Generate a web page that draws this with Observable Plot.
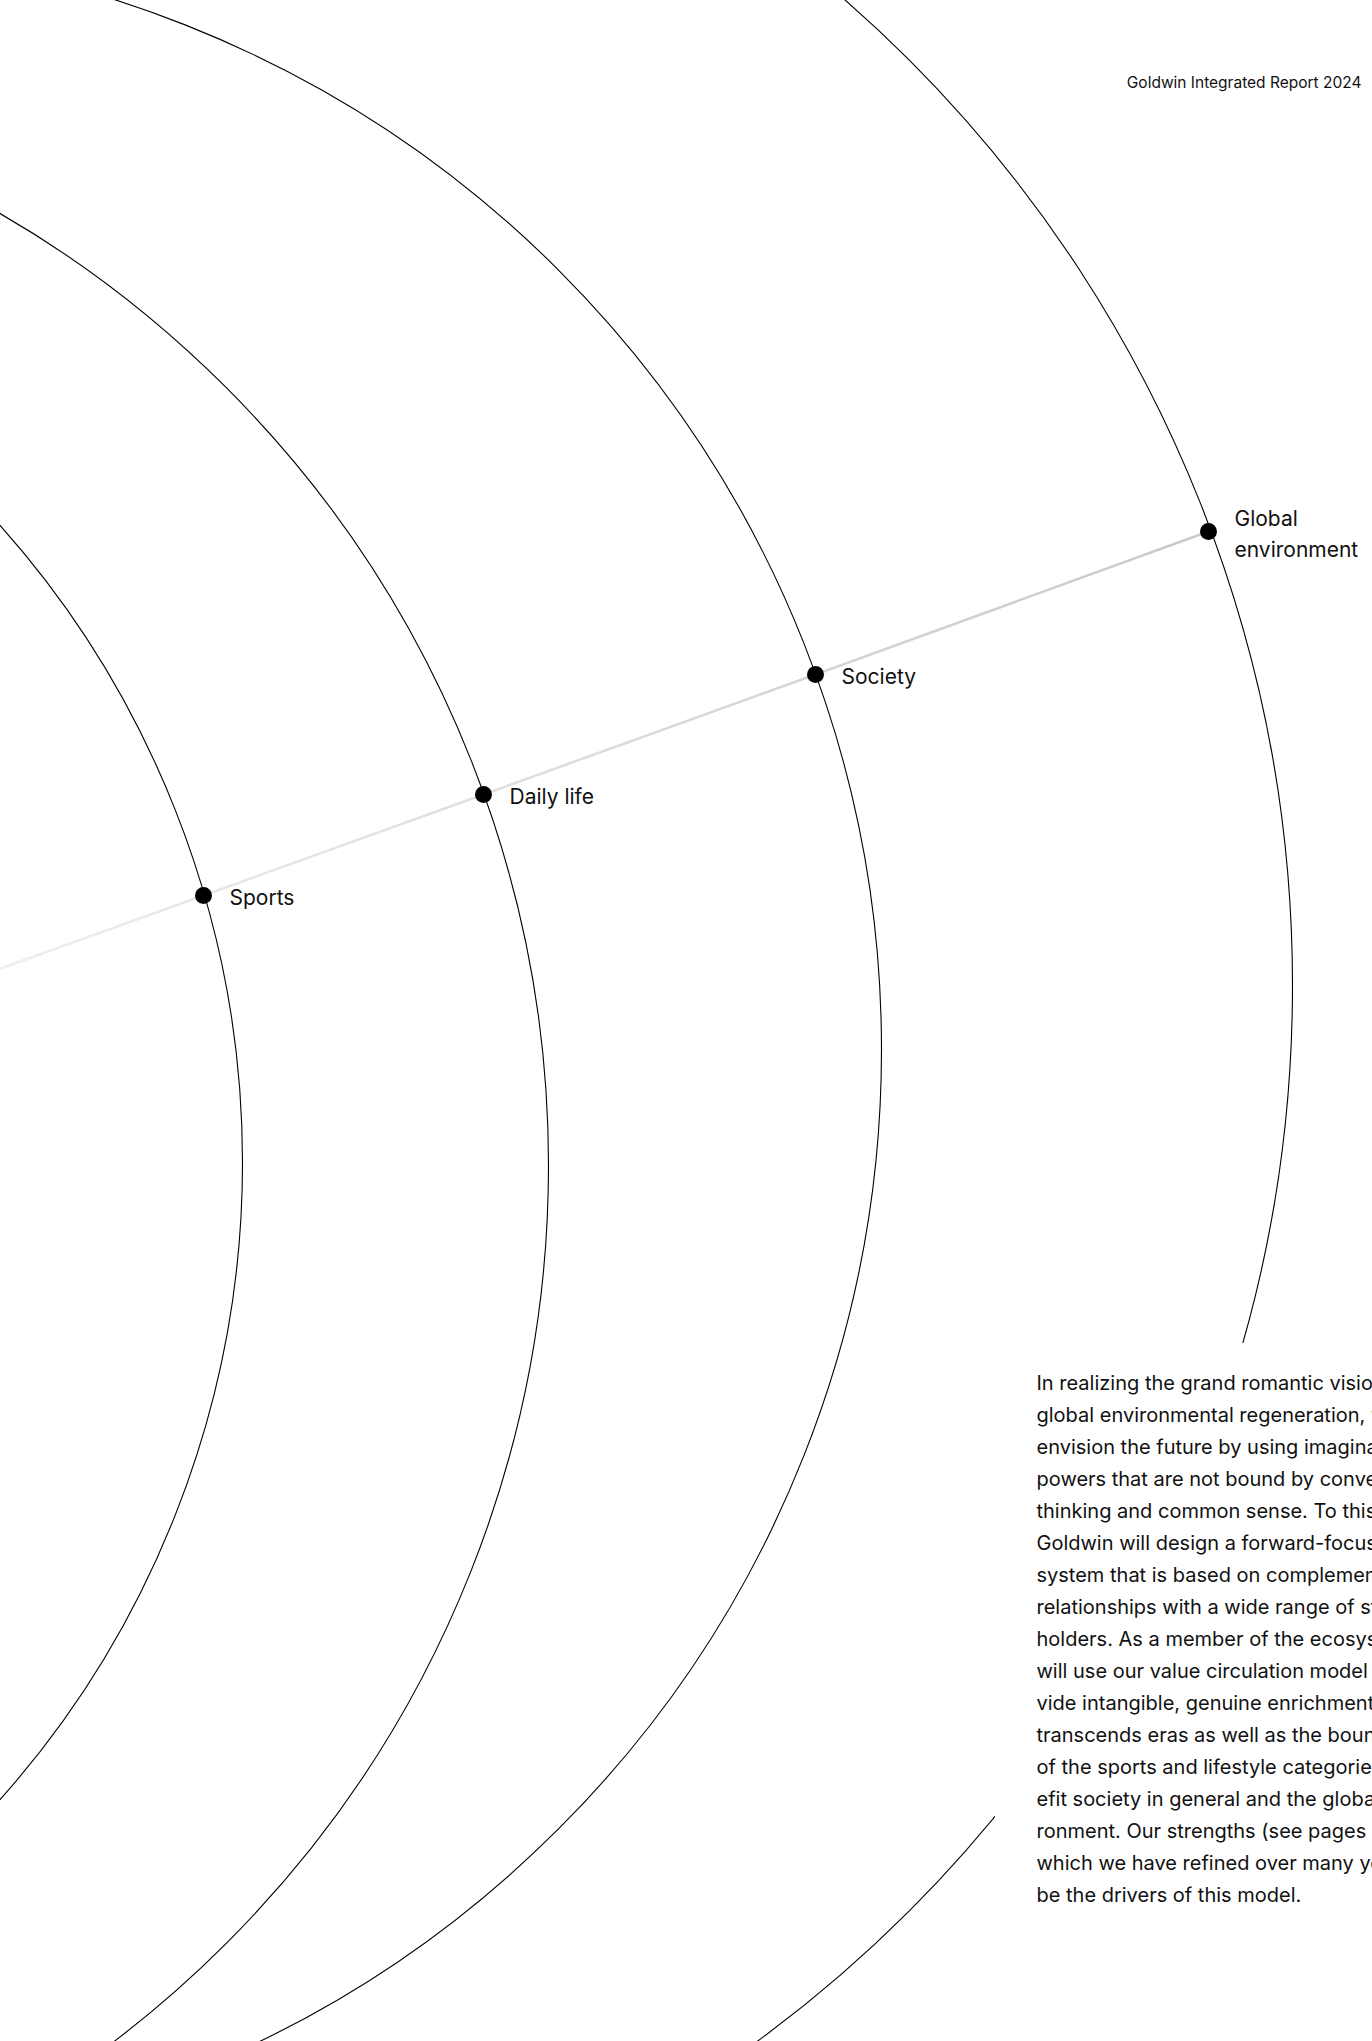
<!DOCTYPE html>
<html>
<head>
<meta charset="utf-8">
<script src="https://cdn.jsdelivr.net/npm/d3@7"></script>
<script src="https://cdn.jsdelivr.net/npm/@observablehq/plot@0.6"></script>
<style>
html, body { margin: 0; padding: 0; background: #fff; overflow: hidden; }
#chart svg { display: block; }
</style>
</head>
<body>
<div id="chart"></div>
<script>
// ---- page frame ----
const W = 1372, H = 2041;

// ---- rings (concentric-ish circles of the value model) ----
const ringNames   = ["Sports", "Daily life", "Society", "Global environment"];
const ringLabels  = ["Sports", "Daily life", "Society", "Global\nenvironment"];
const ringCenterX = [-716, -552, -221, -17];
const ringCenterY = [1162, 1165, 1049, 985];
const ringRadius  = [958, 1100, 1102, 1309];

// ---- nodes where the spine crosses each ring ----
const nodeX = [203, 483, 815, 1208];
const nodeY = [895, 794, 674, 531];
// spine enters from the left edge
const spineStartX = 0;
const spineStartY = 968;

// ---- texts ----
const headerText = "Goldwin Integrated Report 2024";
const bodyLines = [
  "In realizing the grand romantic vision of",
  "global environmental regeneration, we will",
  "envision the future by using imaginative",
  "powers that are not bound by conventional",
  "thinking and common sense. To this end,",
  "Goldwin will design a forward-focused",
  "system that is based on complementary",
  "relationships with a wide range of stake-",
  "holders. As a member of the ecosystem, we",
  "will use our value circulation model to pro-",
  "vide intangible, genuine enrichment that",
  "transcends eras as well as the boundaries",
  "of the sports and lifestyle categories to ben-",
  "efit society in general and the global envi-",
  "ronment. Our strengths (see pages 10–17),",
  "which we have refined over many years, will",
  "be the drivers of this model."
];

// ---- text panel that masks the outer ring ----
const panelX1 = [995], panelX2 = [1372], panelY1 = [1343], panelY2 = [1930];

// build tables
const rings = ringNames.map((name, i) => ({name, cx: ringCenterX[i], cy: ringCenterY[i], r: ringRadius[i]}));
const nodes = ringNames.map((name, i) => ({name, label: ringLabels[i], x: nodeX[i], y: nodeY[i]}));
const spine = [{x: spineStartX, y: spineStartY}, ...nodes.map(d => ({x: d.x, y: d.y}))];
const panel = panelX1.map((x1, i) => ({x1, x2: panelX2[i], y1: panelY1[i], y2: panelY2[i]}));

const chart = Plot.plot({
  width: W,
  height: H,
  margin: 0,
  x: {domain: [0, W], range: [0, W], axis: null},
  y: {domain: [0, H], range: [0, H], axis: null},
  r: {type: "identity"},
  style: {background: "#fff", fontFamily: "Inter, 'Noto Sans', sans-serif", color: "#111", overflow: "hidden"},
  marks: [
    Plot.dot(rings, {x: "cx", y: "cy", r: "r", fill: "none", stroke: "#000", strokeWidth: 1.1}),
    Plot.line(spine, {x: "x", y: "y", stroke: "url(#spineGrad)", strokeWidth: 2.5}),
    Plot.rect(panel, {x1: "x1", x2: "x2", y1: "y1", y2: "y2", fill: "#fff"}),
    Plot.dot(nodes, {x: "x", y: "y", r: 8.5, fill: "#000", stroke: "none"}),
    Plot.text(nodes, {x: "x", y: "y", text: "label", dx: 26, textAnchor: "start", lineAnchor: "middle",
      fontSize: 21, lineHeight: 1.48, fill: "#111"}),
    Plot.text([headerText], {x: 1361, y: 83, text: d => d, textAnchor: "end", lineAnchor: "middle",
      fontSize: 15.5, fill: "#111"}),
    Plot.text([bodyLines.join("\n")], {x: 1036, y: 1367, text: d => d, textAnchor: "start", lineAnchor: "top",
      fontSize: 20, lineHeight: 1.6, fill: "#111"})
  ]
});

// gradient for the spine, light at the left edge, darker towards the outer ring
const sx = chart.scale("x"), sy = chart.scale("y");
const defs = d3.select(chart).insert("defs", ":first-child");
const grad = defs.append("linearGradient")
  .attr("id", "spineGrad")
  .attr("gradientUnits", "userSpaceOnUse")
  .attr("x1", sx.apply(spine[0].x)).attr("y1", sy.apply(spine[0].y))
  .attr("x2", sx.apply(spine[spine.length - 1].x)).attr("y2", sy.apply(spine[spine.length - 1].y));
grad.append("stop").attr("offset", "0%").attr("stop-color", "#eeeeee");
grad.append("stop").attr("offset", "100%").attr("stop-color", "#c9c9c9");

document.getElementById("chart").appendChild(chart);
</script>
</body>
</html>
